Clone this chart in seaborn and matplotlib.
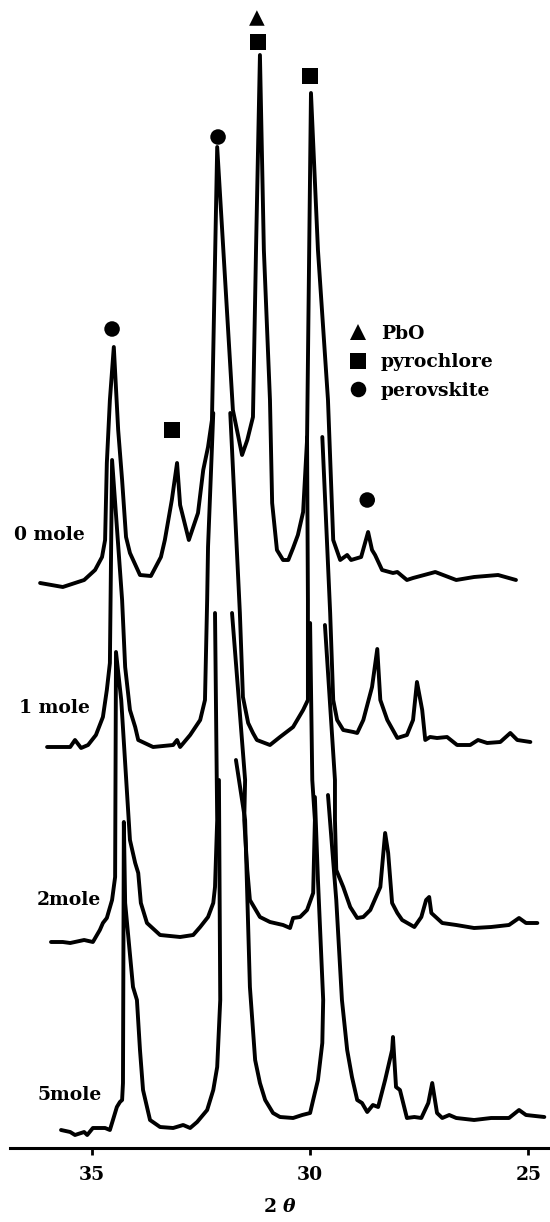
import numpy as np
import pandas as pd
import matplotlib
matplotlib.use("Agg")
import matplotlib.pyplot as plt
import seaborn as sns

nan = np.nan

# ---------------- data ----------------
samples = ["0 mole", "1 mole", "2mole", "5mole"]
offsets = [565, 403, 208, 20]          # vertical stacking offset of each pattern (a.u.)

theta_0 = [36.19, 35.67, 35.18, 34.93, 34.77, 34.70, 34.66, 34.59, 34.50, 34.40, 34.31, 34.22, 34.13,
           33.90, 33.65, 33.42, 33.33, 33.17, 33.05, 32.98, 32.78, 32.57, 32.45, 32.34, 32.25, 32.13,
           31.77, 31.56, 31.44, 31.31, 31.24, 31.15, 31.06, 30.92, 30.87, 30.76, 30.62, 30.50, 30.39,
           30.28, 30.16, 30.07, 29.98, 29.82, 29.59, 29.47, 29.31, 29.15, 29.06, 28.83, 28.67, 28.58,
           28.51, 28.35, 28.10, 28.00, 27.78, 27.64, 27.13, 26.65, 26.24, 25.69, 25.28]
int_0 = [0, -4, 3, 13, 26, 43, 120, 183, 236, 153, 103, 46, 30,
         8, 7, 26, 43, 83, 120, 78, 43, 70, 113, 136, 163, 436,
         173, 128, 143, 166, 333, 528, 333, 183, 80, 33, 23, 23, 35,
         48, 71, 143, 490, 333, 183, 43, 23, 28, 23, 26, 51, 33,
         28, 13, 10, 11, 3, 5, 11, 3, 6, 8, 3]

theta_1 = [36.03, 35.50, 35.39, 35.25, 35.09, 34.91, 34.75, 34.66, 34.59, 34.54, 34.31, 34.24, 34.13,
           34.01, 33.94, 33.60, 33.14, 33.05, 32.98, 32.75, 32.52, 32.41, 32.36, 32.34, 32.25, 32.22,
           nan, 31.83, 31.72, 31.61, 31.54, 31.42, 31.31, 31.22, 30.92, 30.69, 30.39, 30.16, 30.05,
           30.05, 30.07, nan, 29.72, 29.54, 29.47, 29.38, 29.24, 29.01, 28.92, 28.78, 28.58, 28.46,
           28.39, 28.23, 28.00, 27.78, 27.64, 27.55, 27.43, 27.36, 27.25, 27.09, 26.86, 26.63, 26.33,
           26.15, 25.94, 25.64, 25.41, 25.25, 24.95]
int_1 = [-2, -2, 5, -3, 0, 10, 28, 55, 82, 285, 145, 78, 35,
         18, 5, -2, 0, 5, -2, 10, 25, 45, 145, 198, 298, 332,
         nan, 332, 232, 132, 48, 22, 12, 5, 0, 8, 18, 35, 45,
         145, 308, nan, 308, 132, 45, 25, 15, 13, 12, 25, 58, 96,
         45, 25, 7, 10, 25, 63, 35, 5, 8, 7, 8, 0, 0,
         5, 2, 3, 12, 5, 3]

theta_2 = [35.94, 35.67, 35.50, 35.18, 34.98, 34.86, 34.82, 34.75, 34.66, 34.54, 34.47, 34.45, 34.33,
           34.13, 34.01, 33.94, 33.88, 33.74, 33.44, 32.98, 32.68, 32.52, 32.34, 32.22, 32.18, 32.13,
           32.18, nan, 31.79, 31.49, 31.51, 31.44, 31.38, 31.15, 30.92, 30.62, 30.46, 30.39, 30.23,
           30.07, 29.93, 29.89, 29.95, 30.00, nan, 29.66, 29.43, 29.43, 29.40, 29.24, 29.08, 28.92,
           28.78, 28.62, 28.39, 28.28, 28.21, 28.12, 28.00, 27.89, 27.61, 27.45, 27.34, 27.27, 27.22,
           26.97, 26.65, 26.24, 25.85, 25.44, 25.21, 25.05, 24.79]
int_2 = [-2, -2, -3, 0, -2, 7, 10, 17, 22, 40, 63, 288, 240,
         100, 77, 67, 37, 17, 5, 3, 5, 13, 23, 37, 53, 120,
         327, nan, 327, 160, 120, 70, 40, 23, 18, 15, 12, 22, 23,
         30, 47, 120, 160, 317, nan, 315, 160, 120, 70, 53, 33, 22,
         23, 30, 53, 107, 87, 37, 27, 20, 13, 23, 40, 43, 27,
         17, 15, 12, 13, 15, 22, 17, 17]

theta_5 = [35.71, 35.50, 35.39, 35.18, 35.11, 34.98, 34.70, 34.59, 34.52, 34.43, 34.36, 34.31, 34.29,
           34.27, 34.24, 34.06, 33.97, 33.90, 33.83, 33.67, 33.44, 33.14, 32.91, 32.75, 32.59, 32.36,
           32.22, 32.13, 32.06, 32.09, nan, 31.70, 31.49, 31.38, 31.26, 31.15, 31.03, 30.85, 30.69,
           30.39, 30.18, 30.00, 29.93, 29.82, 29.72, 29.70, 29.82, 29.89, nan, 29.59, 29.40, 29.27,
           29.15, 29.04, 28.92, 28.81, 28.69, 28.56, 28.44, 28.28, 28.12, 28.10, 28.03, 27.94, 27.78,
           27.61, 27.45, 27.29, 27.20, 27.09, 26.97, 26.81, 26.65, 26.24, 25.85, 25.44, 25.21, 25.05,
           24.63]
int_5 = [-2, -4, -7, -4, -7, 0, 0, -2, 8, 21, 26, 28, 45,
         306, 225, 141, 128, 78, 38, 8, 1, 0, 3, 0, 6, 18,
         38, 61, 128, 348, nan, 368, 308, 141, 68, 45, 28, 15, 11,
         10, 13, 15, 28, 48, 85, 128, 248, 331, nan, 333, 228, 128,
         78, 51, 28, 25, 16, 23, 21, 48, 78, 91, 41, 38, 10,
         11, 10, 25, 45, 15, 10, 13, 10, 8, 10, 10, 18, 13,
         11]

thetas = [theta_0, theta_1, theta_2, theta_5]
intensities = [int_0, int_1, int_2, int_5]

# phase markers above identified peaks
marker_theta = [31.22, 31.19, 30.00, 33.17, 34.54, 32.11, 28.69]
marker_y = [1130, 1106, 1072, 718, 819, 1011, 648]
marker_phase = ["PbO", "pyrochlore", "pyrochlore", "pyrochlore", "perovskite", "perovskite", "perovskite"]
phase_order = ["PbO", "pyrochlore", "perovskite"]
phase_markers = {"PbO": "^", "pyrochlore": "s", "perovskite": "o"}

x_ticks = [35, 30, 25]

# ---------------- build long table ----------------
rows = []
for name, th, it, off in zip(samples, thetas, intensities, offsets):
    seg = 0
    for t, v in zip(th, it):
        if np.isnan(t):
            seg += 1
            continue
        rows.append({"sample": name, "seg": f"{name}-{seg}", "theta": t, "y": v + off})
df = pd.DataFrame(rows)

# ---------------- plot ----------------
sns.set_theme(style="white")
plt.rcParams["font.family"] = ["DejaVu Serif"]
plt.rcParams["font.weight"] = "bold"
plt.rcParams["mathtext.fontset"] = "dejavuserif"
plt.rcParams["text.color"] = "black"
plt.rcParams["axes.labelcolor"] = "black"
plt.rcParams["xtick.color"] = "black"

fig = plt.figure(figsize=(5.5, 12.22), dpi=100)
ax = fig.add_axes([10 / 550, 74 / 1222, 540 / 550, 1148 / 1222])

sns.lineplot(data=df, x="theta", y="y", units="seg", estimator=None, sort=False,
             color="black", lw=2.8, ax=ax, legend=False,
             solid_joinstyle="round", solid_capstyle="round")

sns.scatterplot(x=marker_theta, y=marker_y, style=marker_phase, style_order=phase_order,
                markers=phase_markers, color="black", s=125, linewidth=0, ax=ax, zorder=5)

old = ax.get_legend()
handles = old.legend_handles
labels = [t.get_text() for t in old.get_texts()]
old.remove()
leg = ax.legend(handles, labels, loc="upper left", bbox_to_anchor=(0.628, 0.717), frameon=False,
                fontsize=13.5, handlelength=1.0, handletextpad=0.7, labelspacing=0.55, borderpad=0,
                borderaxespad=0)
for t in leg.get_texts():
    t.set_color("black")

label_x = [36.79, 36.67, 36.26, 36.26]
label_y = [613, 440, 248, 53]
for name, tx, ty in zip(samples, label_x, label_y):
    ax.text(tx, ty, name, ha="left", va="center", fontsize=13.5, fontweight="bold", color="black")

ax.set_xlim(36.88, 24.50)
ax.set_ylim(0, 1148)
ax.set_xticks(x_ticks)
ax.set_xticklabels([str(v) for v in x_ticks])
ax.set_yticks([])
ax.set_ylabel("")
ax.set_xlabel(r"2 $\theta$", fontsize=13.5, fontweight="bold", labelpad=10, color="black")
for s in ["left", "top", "right"]:
    ax.spines[s].set_visible(False)
ax.spines["bottom"].set_linewidth(2.2)
ax.spines["bottom"].set_color("black")
ax.tick_params(axis="x", direction="out", length=5, width=2, pad=8, labelsize=13.5,
               colors="black", bottom=True)
ax.grid(False)

fig.savefig("out.png", dpi=100)
